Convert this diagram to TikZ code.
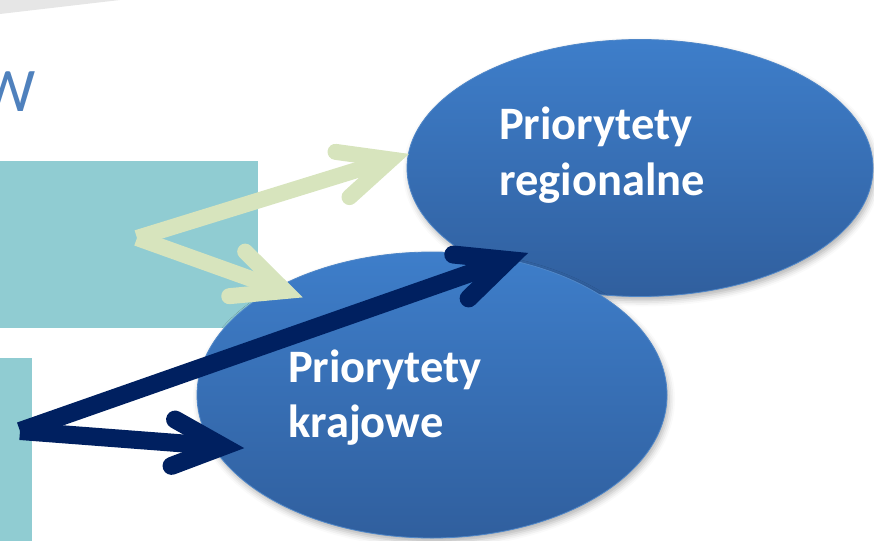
\documentclass[tikz,border=0pt]{standalone}
\usepackage{fontspec}
\setmainfont{Carlito}
\usetikzlibrary{shapes.geometric,calc,shadows.blur}
\definecolor{teal1}{RGB}{144,204,210}
\definecolor{navy}{RGB}{0,32,96}
\definecolor{lgreen}{RGB}{215,228,189}
\definecolor{etop}{RGB}{62,126,202}
\definecolor{ebot}{RGB}{48,95,158}
\definecolor{eedge}{RGB}{80,135,200}
\definecolor{wblue}{RGB}{79,129,189}
\definecolor{wedgegray}{RGB}{230,230,230}
\tikzset{
  blob/.style={ellipse, draw=eedge, line width=0.8pt, top color=etop, bottom color=ebot,
    inner sep=0pt, blur shadow={shadow xshift=2pt, shadow yshift=-4pt, shadow blur radius=6pt, shadow opacity=30}},
  lbl/.style={text=white, font=\bfseries\fontsize{46.5}{55}\selectfont, align=left, inner sep=0pt, anchor=base west},
  panel/.style={fill=teal1, draw=none},
}
% #1 colour, #2 width, #3 barb length, #4 from, #5 to
\newcommand\fatarrow[5]{%
  \draw[#1, line width=#2, line cap=butt] (#4) -- (#5);
  \draw[#1, line width=#2, line cap=round, line join=miter]
    ($(#5)!#3!25:(#4)$) -- (#5) -- ($(#5)!#3!-25:(#4)$);
}
\begin{document}
\begin{tikzpicture}[x=1pt,y=-1pt]
\useasboundingbox (0,0) rectangle (874,540);
\clip (0,0) rectangle (874,540);
% background bits
\fill[wedgegray] (0,0) -- (120,0) -- (0,14) -- cycle;
\node[text=wblue, font=\fontsize{62}{70}\selectfont, inner sep=0pt, anchor=base east] (wtxt) at (36,112) {W};
\node[panel, minimum width=268pt, minimum height=167pt, inner sep=0pt] (panA) at (124,244.5) {};
\node[panel, minimum width=42pt, minimum height=190pt, inner sep=0pt] (panB) at (11,453) {};
% ellipses
\node[blob, minimum width=466pt, minimum height=257pt] (reg) at (640,168) {};
\node[blob, minimum width=470pt, minimum height=286pt] (kraj) at (432,395) {};
\node[lbl] (regt) at (499,195) {Priorytety\\regionalne};
\node[lbl] (krajt) at (288,437) {Priorytety\\krajowe};
% arrow points
\coordinate (gsrc) at (137,238);
\coordinate (gup) at (391,159.5);
\coordinate (gdn) at (285,291);
\coordinate (nsrc) at (20,431);
\coordinate (nup) at (508,260);
\coordinate (ndn) at (223,446.5);
\fatarrow{lgreen}{16pt}{56pt}{gsrc}{gup}
\fatarrow{lgreen}{16pt}{56pt}{gsrc}{gdn}
\fatarrow{navy}{18pt}{55pt}{nsrc}{nup}
\fatarrow{navy}{18pt}{55pt}{nsrc}{ndn}
\end{tikzpicture}
\end{document}
